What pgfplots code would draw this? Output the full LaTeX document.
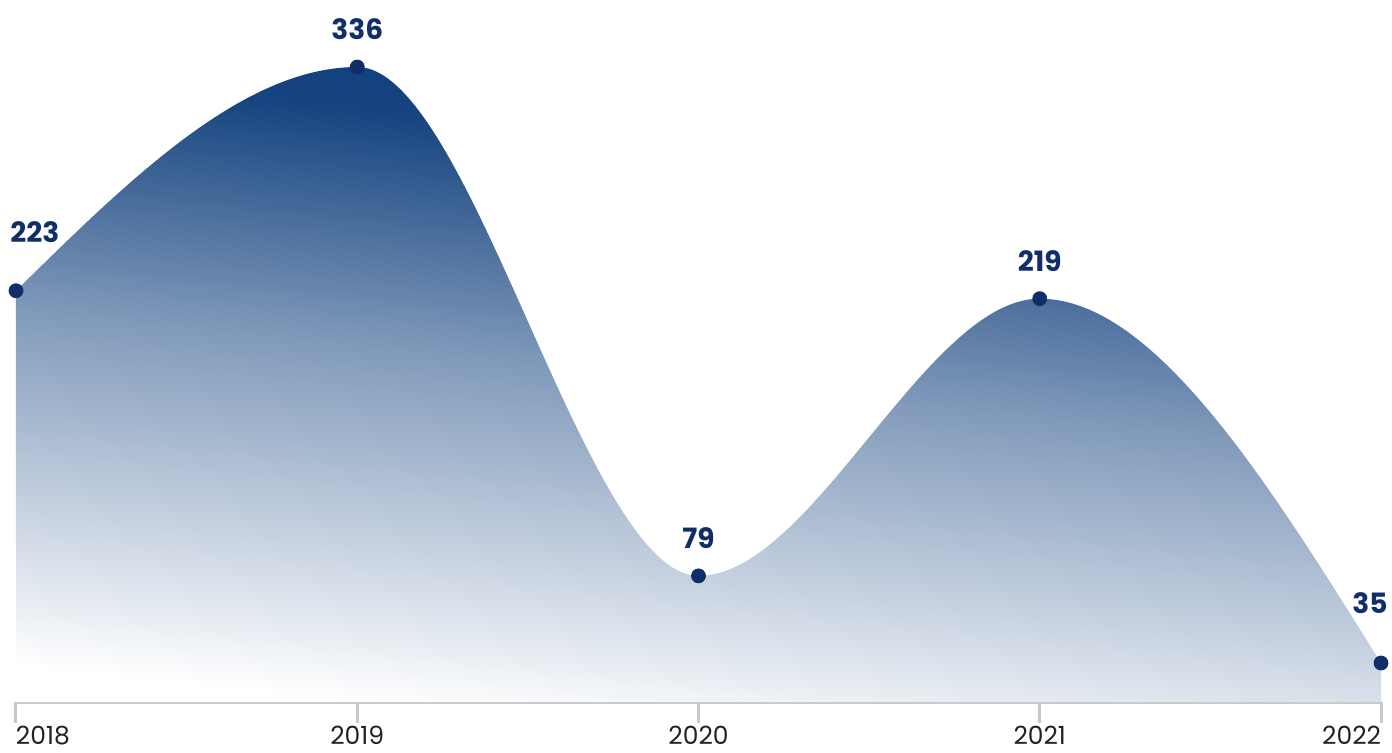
\documentclass[border=0pt]{standalone}
\usepackage{pgfplots}
\pgfplotsset{compat=1.18}
\usepackage{fontspec}
\setmainfont{Poppins}
\definecolor{navy}{HTML}{0E3E7C}
\definecolor{dotnavy}{HTML}{102E6A}
\definecolor{axisgray}{HTML}{C8C8C8}
\definecolor{ticktext}{HTML}{222222}
\pgfdeclareverticalshading{areafade}{100bp}{color(0bp)=(white); color(25bp)=(white); color(50bp)=(navy!52!white); color(57.5bp)=(navy!72!white); color(67bp)=(navy!97!white); color(75bp)=(navy); color(100bp)=(navy)}

% monotone cubic (d3 curveMonotoneX style) plot handler: horizontal tangent at interior extrema
\makeatletter
\newdimen\mc@xa \newdimen\mc@ya
\newdimen\mc@xb \newdimen\mc@yb
\newdimen\mc@nx \newdimen\mc@ny
\newdimen\mc@dx \newdimen\mc@dy
\newdimen\mc@px \newdimen\mc@py
\newdimen\mc@qx \newdimen\mc@qy
\def\pgfplothandlermonotone{%
  \def\pgf@plotstreamstart{%
    \global\let\pgf@plotstreampoint=\mc@handler@initial
    \global\let\pgf@plotstreamspecial=\pgfutil@gobble
    \global\let\pgf@plotstreamend=\mc@handler@finish
  }%
}
\def\mc@handler@initial#1{%
  \pgf@process{#1}%
  \global\mc@xb=\pgf@x \global\mc@yb=\pgf@y
  \pgf@plot@first@action{\pgfqpoint{\mc@xb}{\mc@yb}}%
  \gdef\mc@isfirst{1}%
  \gdef\mc@count{1}%
  \global\let\pgf@plotstreampoint=\mc@handler@rest
}
\def\mc@handler@rest#1{%
  \pgf@process{#1}%
  \global\mc@nx=\pgf@x \global\mc@ny=\pgf@y
  \if2\mc@count
    \mc@emit{\mc@isfirst}{0}%
    \gdef\mc@isfirst{0}%
  \fi
  \global\mc@xa=\mc@xb \global\mc@ya=\mc@yb
  \global\mc@xb=\mc@nx \global\mc@yb=\mc@ny
  \gdef\mc@count{2}%
}
\def\mc@handler@finish{%
  \if2\mc@count
    \mc@emit{\mc@isfirst}{1}%
  \fi
}
\def\mc@emit#1#2{%
  \mc@dx=\mc@xb \advance\mc@dx by -\mc@xa \divide\mc@dx by 3
  \mc@dy=\mc@yb \advance\mc@dy by -\mc@ya \divide\mc@dy by 2
  \mc@px=\mc@xa \advance\mc@px by \mc@dx
  \mc@py=\mc@ya \if1#1\advance\mc@py by \mc@dy\fi
  \mc@qx=\mc@xb \advance\mc@qx by -\mc@dx
  \mc@qy=\mc@yb \if1#2\advance\mc@qy by -\mc@dy\fi
  \pgfpathcurveto{\pgfqpoint{\mc@px}{\mc@py}}{\pgfqpoint{\mc@qx}{\mc@qy}}{\pgfqpoint{\mc@xb}{\mc@yb}}%
}
\tikzset{monotone/.code={\let\tikz@plot@handler=\pgfplothandlermonotone}}
\makeatother

\newcommand{\labelfont}{\fontsize{14}{17}\selectfont\bfseries}

\begin{document}
\begin{tikzpicture}
\path[use as bounding box] (0,0) rectangle (696pt,376pt);
\begin{axis}[
  at={(8pt,25pt)}, anchor=south west,
  scale only axis, width=682.5pt, height=317.5pt,
  xmin=2018, xmax=2022, ymin=15.3, ymax=336,
  clip=false,
  axis x line*=bottom, axis y line=none,
  x axis line style={draw=axisgray, line width=1.5pt},
  xtick={2018,2019,2020,2021,2022},
  xticklabels={{\rlap{2018}},2019,2020,2021,{\llap{2022}}},
  tick align=outside, major tick length=10.5pt,
  xtick style={draw=axisgray, line width=1.5pt},
  xticklabel style={font=\fontsize{12.5}{14}\selectfont, text=ticktext, inner sep=0pt, yshift=-1.5pt},
  ytick=\empty,
  /pgf/number format/assume math mode=true,
]
\addplot[draw=none, monotone, shade, shading=areafade, shading angle=-6] coordinates {
  (2018,223) (2019,336) (2020,79) (2021,219) (2022,35)
} \closedcycle;

\addplot[only marks, mark=*, mark size=3.5pt, draw=dotnavy, fill=dotnavy, mark options={draw=dotnavy, fill=dotnavy}] coordinates {
  (2018,223) (2019,336) (2020,79) (2021,219) (2022,35)
};

\addplot[draw=none, nodes near coords={\labelfont\pgfmathprintnumber[assume math mode=true]{\pgfplotspointmeta}},
  every node near coord/.append style={anchor=south, inner sep=0pt, yshift=13.5pt, text=dotnavy}]
  coordinates {(2019,336) (2020,79) (2021,219)};

\addplot[draw=none, nodes near coords={\labelfont\pgfmathprintnumber[assume math mode=true]{\pgfplotspointmeta}},
  every node near coord/.append style={anchor=south west, inner sep=0pt, xshift=-3pt, yshift=24pt, text=dotnavy}]
  coordinates {(2018,223)};

\addplot[draw=none, nodes near coords={\labelfont\pgfmathprintnumber[assume math mode=true]{\pgfplotspointmeta}},
  every node near coord/.append style={anchor=south east, inner sep=0pt, xshift=3.5pt, yshift=24.5pt, text=dotnavy}]
  coordinates {(2022,35)};
\end{axis}
\end{tikzpicture}
\end{document}
